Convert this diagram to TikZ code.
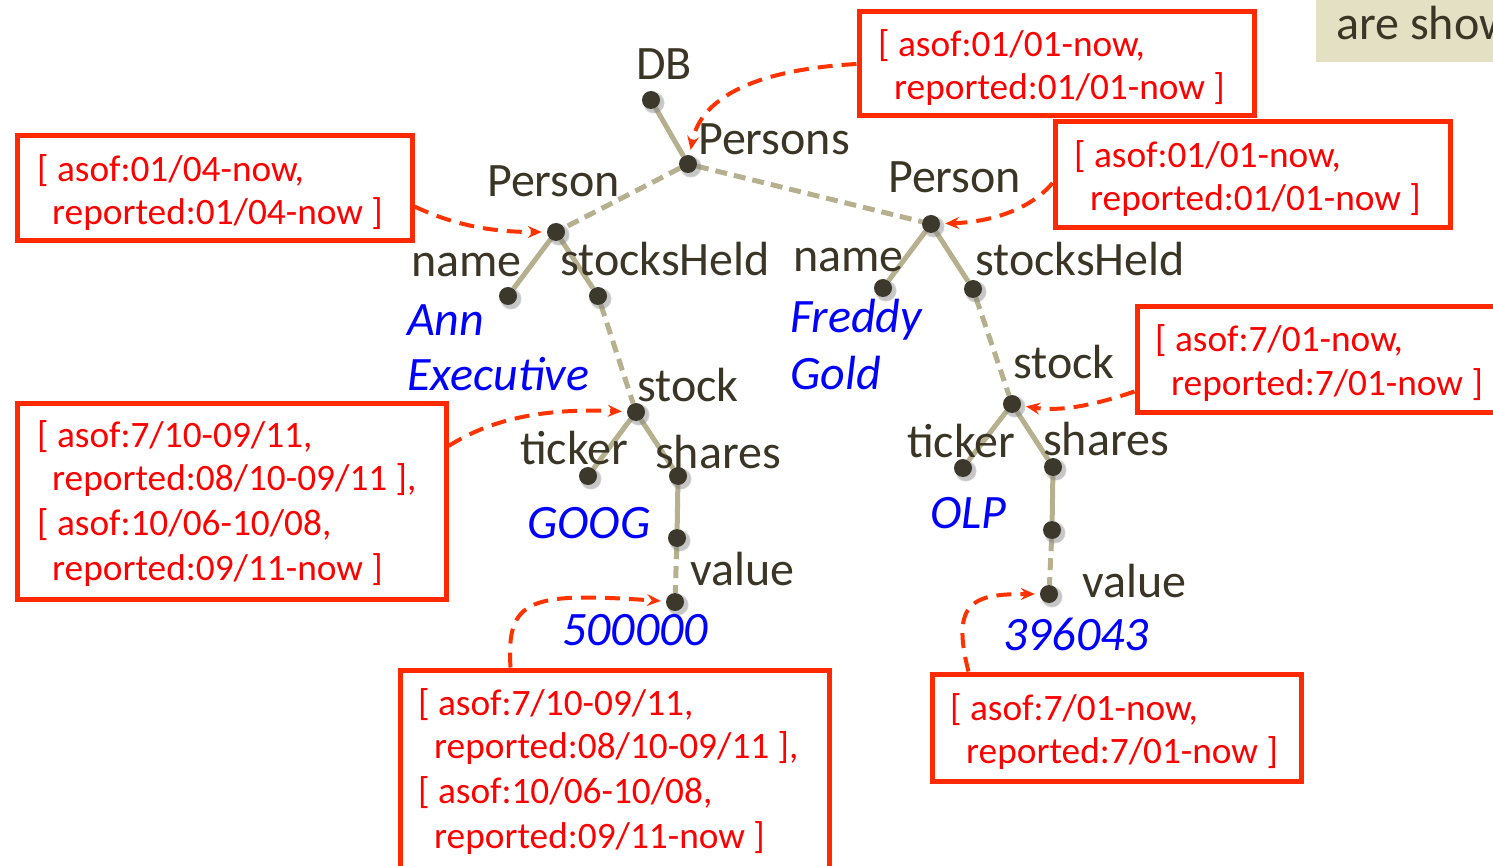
\documentclass[tikz,border=0pt]{standalone}
\usepackage{fontspec}
\setmainfont{Carlito}
\usetikzlibrary{arrows.meta,calc,backgrounds,shadows}

\definecolor{labelc}{HTML}{3B3526}
\definecolor{dotc}{HTML}{3C382C}
\definecolor{edgec}{HTML}{B6B08F}
\definecolor{boxred}{HTML}{FF2A00}
\definecolor{arrc}{HTML}{FF3300}
\definecolor{notec}{HTML}{E3E0C4}

\tikzset{
  lbl/.style={font=\fontsize{48}{54}\selectfont, text=labelc, inner sep=0pt, anchor=base west},
  val/.style={font=\fontsize{48}{54}\selectfont\itshape, text=blue, inner sep=0pt, anchor=base west},
  rline/.style={font=\fontsize{37.3}{44}\selectfont, text=red, inner sep=0pt, anchor=base west},
  rbox/.style={draw=boxred, line width=5pt, rectangle, inner sep=0pt},
  dot/.style={circle, fill=dotc, minimum size=18pt, inner sep=0pt,
    circular drop shadow={shadow xshift=2pt, shadow yshift=-2pt, shadow scale=1.25, opacity=0.45}},
  edge/.style={draw=edgec, line width=5pt},
  dedge/.style={edge, dash pattern=on 12pt off 7pt},
  ann/.style={draw=arrc, line width=4pt, dash pattern=on 15pt off 9pt,
    -{Stealth[length=14pt,width=12pt,inset=5pt]}, shorten >=5pt},
}

\begin{document}
\begin{tikzpicture}[x=1pt,y=-1pt]
\useasboundingbox (0,0) rectangle (1493,866);
\clip (0,0) rectangle (1493,866);

% note strip in the corner
\node[fill=notec, minimum width=190pt, minimum height=62pt, inner sep=0pt, anchor=north west] (note) at (1316,0) {};
\node[lbl] (notetxt) at (1336,40) {are shown};

% tree nodes
\node[dot] (db) at (651,100) {};
\node[dot] (pers) at (688,164) {};
\node[dot] (p1) at (556,232) {};
\node[dot] (p2) at (931,224) {};
\node[dot] (n1) at (508,296) {};
\node[dot] (sh1) at (598,296) {};
\node[dot] (n2) at (883,288) {};
\node[dot] (sh2) at (973,289) {};
\node[dot] (st1) at (636,412) {};
\node[dot] (tk1) at (588,476) {};
\node[dot] (sr1) at (678,476) {};
\node[dot] (m1) at (677,538) {};
\node[dot] (v1) at (675,602) {};
\node[dot] (st2) at (1012,404) {};
\node[dot] (tk2) at (963,468) {};
\node[dot] (sr2) at (1053,467) {};
\node[dot] (m2) at (1052,530) {};
\node[dot] (v2) at (1049,594) {};

% tree edges
\begin{scope}[on background layer]
  \draw[edge] (db) -- (pers);
  \draw[dedge] (pers) -- (p1);
  \draw[dedge] (pers) -- (p2);
  \draw[edge] (p1) -- (n1);
  \draw[edge] (p1) -- (sh1);
  \draw[dedge] (sh1) -- (st1);
  \draw[edge] (st1) -- (tk1);
  \draw[edge] (st1) -- (sr1);
  \draw[edge] (sr1) -- (m1);
  \draw[dedge] (m1) -- (v1);
  \draw[edge] (p2) -- (n2);
  \draw[edge] (p2) -- (sh2);
  \draw[dedge] (sh2) -- (st2);
  \draw[edge] (st2) -- (tk2);
  \draw[edge] (st2) -- (sr2);
  \draw[edge] (sr2) -- (m2);
  \draw[dedge] (m2) -- (v2);
\end{scope}

% element labels
\node[lbl] (ldb) at (636,80) {DB};
\node[lbl] (lpers) at (698,155) {Persons};
\node[lbl] (lp1) at (487,197) {Person};
\node[lbl] (lp2) at (888,193) {Person};
\node[lbl] (ln1) at (411,277) {name};
\node[lbl] (lsh1) at (560,276) {stocksHeld};
\node[lbl] (ln2) at (793,272) {name};
\node[lbl] (lsh2) at (975,276) {stocksHeld};
\node[lbl] (lst1) at (637,401) {stock};
\node[lbl] (ltk1) at (520,464) {ticker};
\node[lbl] (lsr1) at (655,468) {shares};
\node[lbl] (lv1) at (690,585) {value};
\node[lbl] (lst2) at (1013,378) {stock};
\node[lbl] (ltk2) at (907,457) {ticker};
\node[lbl] (lsr2) at (1043,455) {shares};
\node[lbl] (lv2) at (1082,597) {value};

% leaf values
\node[val] (ann) at (407,335) {Ann};
\node[val] (exe) at (407,390) {Executive};
\node[val] (fre) at (790,333) {Freddy};
\node[val] (gol) at (790,389) {Gold};
\node[val] (goog) at (527,538) {GOOG};
\node[val] (olp) at (930,528) {OLP};
\node[val] (n500) at (562,645) {500000};
\node[val] (n396) at (1003,650) {396043};

% timestamp boxes
\node[rbox, minimum width=395pt, minimum height=104pt] (bA) at (1056.5,64) {};
\node[rbox, minimum width=395pt, minimum height=105pt] (bB) at (214.5,188.5) {};
\node[rbox, minimum width=395pt, minimum height=106pt] (bC) at (1252.5,175) {};
\node[rbox, minimum width=429pt, minimum height=196pt] (bD) at (231.5,501) {};
\node[rbox, minimum width=373pt, minimum height=105pt] (bE) at (1323.5,359.5) {};
\node[rbox, minimum width=429pt, minimum height=230pt] (bF) at (614.5,785) {};
\node[rbox, minimum width=369pt, minimum height=107pt] (bG) at (1116.5,727.5) {};

\node[rline] (tA1) at (878,57) {[ asof:01/01-now,};
\node[rline] (tA2) at (894,100) {reported:01/01-now ]};
\node[rline] (tB1) at (37,182) {[ asof:01/04-now,};
\node[rline] (tB2) at (52,225) {reported:01/04-now ]};
\node[rline] (tC1) at (1074,168) {[ asof:01/01-now,};
\node[rline] (tC2) at (1090,211) {reported:01/01-now ]};
\node[rline] (tD1) at (37,447) {[ asof:7/10-09/11,};
\node[rline] (tD2) at (52,490) {reported:08/10-09/11 ],};
\node[rline] (tD3) at (37,535) {[ asof:10/06-10/08,};
\node[rline] (tD4) at (52,580) {reported:09/11-now ]};
\node[rline] (tE1) at (1155,352) {[ asof:7/01-now,};
\node[rline] (tE2) at (1171,395) {reported:7/01-now ]};
\node[rline] (tF1) at (418,715) {[ asof:7/10-09/11,};
\node[rline] (tF2) at (434,758) {reported:08/10-09/11 ],};
\node[rline] (tF3) at (418,803) {[ asof:10/06-10/08,};
\node[rline] (tF4) at (434,848) {reported:09/11-now ]};
\node[rline] (tG1) at (950,720) {[ asof:7/01-now,};
\node[rline] (tG2) at (966,763) {reported:7/01-now ]};

% annotation arrows
\draw[ann] (bA.west) .. controls (750,70) and (700,100) .. (pers);
\draw[ann] ($(bB.east)+(0,18)$) .. controls (460,228) and (500,232) .. (p1);
\draw[ann] ($(bC.west)+(0,8)$) .. controls (1030,210) and (990,222) .. (p2);
\draw[ann] ($(bD.east)+(0,-55)$) .. controls (490,420) and (540,408) .. (st1);
\draw[ann] ($(bE.west)+(0,32)$) .. controls (1095,405) and (1060,412) .. (st2);
\draw[ann] ($(bF.north)+(-104,0)$) .. controls (506,598) and (530,592) .. (v1);
\draw[ann] ($(bG.north)+(-148,0)$) .. controls (950,600) and (975,594) .. (v2);
\end{tikzpicture}
\end{document}
